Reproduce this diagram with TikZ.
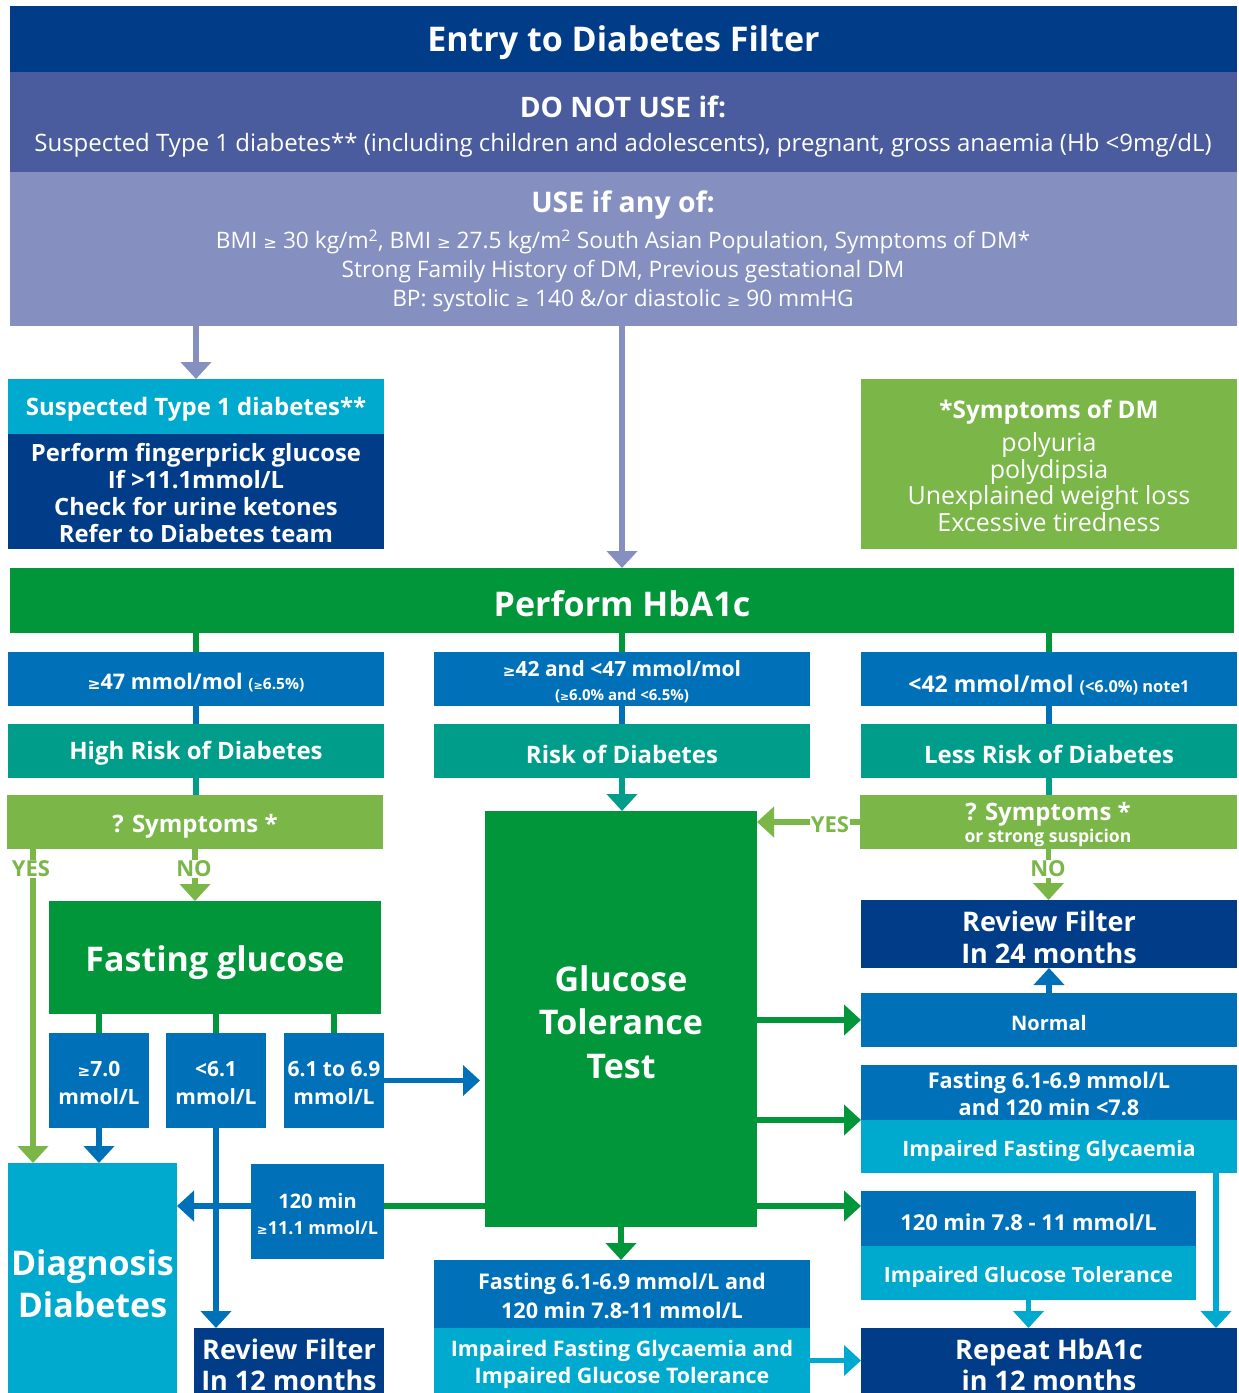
\documentclass[tikz,border=0pt]{standalone}
\usepackage{fontspec}
\setmainfont{Open Sans}
\newfontfamily\djfont{DejaVu Sans}
\usetikzlibrary{arrows.meta}
\newcommand\GE{\scalebox{0.72}{\djfont ≥}}
\newcommand\myfs[2]{\fontsize{#1}{#2}\selectfont}
\definecolor{navy}{HTML}{003C87}
\definecolor{dnuc}{HTML}{4A5C9D}
\definecolor{usec}{HTML}{8690C0}
\definecolor{cyanc}{HTML}{00A9CE}
\definecolor{mblue}{HTML}{0071B9}
\definecolor{tealc}{HTML}{009E8A}
\definecolor{lgreen}{HTML}{7AB648}
\definecolor{gr}{HTML}{009639}
\tikzset{
  box/.style={inner sep=0pt, outer sep=0pt, draw=none},
  tx/.style={text=white, inner sep=0pt, align=center},
  ln/.style={line width=5.5pt},
  ar/.style={line width=5.5pt, -{Triangle[width=30pt,length=17pt]}},
  lab/.style={text=lgreen, font=\bfseries\myfs{22}{24}, fill=white, inner sep=1pt},
}
\begin{document}
\begin{tikzpicture}[x=1pt,y=-1pt]
\useasboundingbox (0,0) rectangle (1239,1393);
\fill[white] (0,0) rectangle (1239,1393);

% ---------- boxes ----------
\node[box, fill=navy, minimum width=1227pt, minimum height=66pt] (title) at (623.5,39) {};
\node[box, fill=dnuc, minimum width=1227pt, minimum height=100pt] (dnu) at (623.5,122) {};
\node[box, fill=usec, minimum width=1227pt, minimum height=154pt] (use) at (623.5,249) {};
\node[box, fill=cyanc, minimum width=376pt, minimum height=55pt] (t1h) at (196,406.5) {};
\node[box, fill=navy, minimum width=376pt, minimum height=115pt] (t1b) at (196,491.5) {};
\node[box, fill=lgreen, minimum width=376pt, minimum height=170pt] (sym) at (1049,464) {};
\node[box, fill=gr, minimum width=1224pt, minimum height=65pt] (hba) at (622,600.5) {};
\node[box, fill=mblue, minimum width=376pt, minimum height=54pt] (r1a) at (196,679) {};
\node[box, fill=mblue, minimum width=376pt, minimum height=54pt] (r1b) at (622,679) {};
\node[box, fill=mblue, minimum width=376pt, minimum height=54pt] (r1c) at (1049,679) {};
\node[box, fill=tealc, minimum width=376pt, minimum height=54pt] (rk1) at (196,751) {};
\node[box, fill=tealc, minimum width=376pt, minimum height=54pt] (rk2) at (622,751) {};
\node[box, fill=tealc, minimum width=376pt, minimum height=54pt] (rk3) at (1049,751) {};
\node[box, fill=lgreen, minimum width=376pt, minimum height=54pt] (sy1) at (195,822) {};
\node[box, fill=lgreen, minimum width=377pt, minimum height=54pt] (sy3) at (1048.5,822) {};
\node[box, fill=gr, minimum width=272pt, minimum height=416pt] (gtt) at (621,1019) {};
\node[box, fill=gr, minimum width=332pt, minimum height=113pt] (fg) at (215,957.5) {};
\node[box, fill=mblue, minimum width=100pt, minimum height=95pt] (s1) at (99,1080.5) {};
\node[box, fill=mblue, minimum width=100pt, minimum height=95pt] (s2) at (216,1080.5) {};
\node[box, fill=mblue, minimum width=100pt, minimum height=95pt] (s3) at (334,1080.5) {};
\node[box, fill=cyanc, minimum width=169pt, minimum height=230pt] (diag) at (92.5,1278) {};
\node[box, fill=mblue, minimum width=133pt, minimum height=95pt] (m120) at (317.5,1211.5) {};
\node[box, fill=navy, minimum width=190pt, minimum height=65pt] (rf12) at (289,1360.5) {};
\node[box, fill=navy, minimum width=376pt, minimum height=68pt] (rf24) at (1049,934) {};
\node[box, fill=mblue, minimum width=376pt, minimum height=54pt] (norm) at (1049,1020) {};
\node[box, fill=mblue, minimum width=376pt, minimum height=55pt] (ifgt) at (1049,1092.5) {};
\node[box, fill=cyanc, minimum width=376pt, minimum height=53pt] (ifgb) at (1049,1146.5) {};
\node[box, fill=mblue, minimum width=335pt, minimum height=55pt] (igtt) at (1028.5,1218.5) {};
\node[box, fill=cyanc, minimum width=335pt, minimum height=54pt] (igtb) at (1028.5,1273) {};
\node[box, fill=navy, minimum width=376pt, minimum height=65pt] (rep) at (1049,1360.5) {};
\node[box, fill=mblue, minimum width=376pt, minimum height=68pt] (midt) at (622,1294) {};
\node[box, fill=cyanc, minimum width=376pt, minimum height=65pt] (midb) at (622,1360.5) {};

% ---------- helper coordinates ----------
\coordinate (xyes) at (33,0);
\coordinate (xifg) at (1216,0);
\coordinate (yigt) at (0,1206);

% ---------- connectors ----------
\draw[ar, usec] (use.south -| t1h) -- (t1h.north);
\draw[ar, usec] (use.south -| hba) -- (hba.north);
\draw[ln, gr] (hba.south -| r1a) -- (r1a.north);
\draw[ln, gr] (hba.south -| r1b) -- (r1b.north);
\draw[ln, gr] (hba.south -| r1c) -- (r1c.north);
\draw[ln, mblue] (r1a.south) -- (rk1.north);
\draw[ln, mblue] (r1b.south) -- (rk2.north);
\draw[ln, mblue] (r1c.south) -- (rk3.north);
\draw[ln, tealc] (rk1.south) -- (sy1.north -| rk1);
\draw[ar, tealc] (rk2.south) -- (gtt.north -| rk2);
\draw[ln, tealc] (rk3.south) -- (sy3.north -| rk3);
\draw[ar, lgreen] (sy3.west) -- (gtt.east |- sy3.west);
\draw[ar, lgreen] (sy3.south) -- (rf24.north -| sy3);
\draw[ar, lgreen] (sy1.south -| xyes) -- (diag.north -| xyes);
\draw[ar, lgreen] (sy1.south) -- (fg.north -| sy1);
\draw[ln, gr] (fg.south -| s1) -- (s1.north);
\draw[ln, gr] (fg.south -| s2) -- (s2.north);
\draw[ln, gr] (fg.south -| s3) -- (s3.north);
\draw[ar, mblue, shorten >=5pt] (s3.east) -- (gtt.west |- s3.east);
\draw[ar, mblue] (s1.south) -- (diag.north -| s1);
\draw[ar, mblue] (s2.south) -- (rf12.north -| s2);
\draw[ln, gr] (gtt.west |- yigt) -- (m120.east |- yigt);
\draw[ar, mblue] (m120.west |- yigt) -- (diag.east |- yigt);
\draw[ar, gr] (gtt.east |- norm) -- (norm.west);
\draw[ar, gr] (gtt.east |- ifgb.north west) -- (ifgb.north west);
\draw[ar, gr] (gtt.east |- yigt) -- (igtt.west |- yigt);
\draw[ar, gr] (gtt.south) -- (midt.north -| gtt);
\draw[ar, mblue] (norm.north) -- (rf24.south);
\draw[ar, cyanc] (ifgb.south -| xifg) -- (rep.north -| xifg);
\draw[ar, cyanc] (igtb.south) -- (rep.north -| igtb);
\draw[ar, cyanc] (midb.east) -- (rep.west |- midb.east);

% ---------- labels ----------
\node[lab] (yesl) at (31,869) {YES};
\node[lab] (nol) at (194,869) {NO};
\node[lab] (yesr) at (830,825) {YES};
\node[lab] (nor) at (1048,869) {NO};

% ---------- texts ----------
\node[tx, font=\bfseries\myfs{34}{40}] (titletx) at (623.5,43) {Entry to Diabetes Filter};
\node[tx, font=\bfseries\myfs{28.2}{32}] (dnuh) at (623,107) {DO NOT USE if:};
\node[tx, font=\myfs{24}{27}] (dnus) at (623,145) {Suspected Type 1 diabetes** (including children and adolescents), pregnant, gross anaemia (Hb <9mg/dL)};
\node[tx, font=\bfseries\myfs{28.4}{32}] (useh) at (623,205) {USE if any of:};
\node[tx, font=\myfs{22.7}{29}] (useb) at (623,271) {BMI \GE\ 30 kg/m\textsuperscript{2}, BMI \GE\ 27.5 kg/m\textsuperscript{2} South Asian Population, Symptoms of DM*\\Strong Family History of DM, Previous gestational DM\\BP: systolic \GE\ 140 \&/or diastolic \GE\ 90 mmHG};
\node[tx, font=\bfseries\myfs{24}{27}] (t1htx) at (196,409) {Suspected Type 1 diabetes**};
\node[tx, font=\bfseries\myfs{23.8}{27}] (t1btx) at (196,493) {Perform fingerprick glucose\\If >11.1mmol/L\\Check for urine ketones\\Refer to Diabetes team};
\node[tx, font=\bfseries\myfs{24.3}{27}] (symh) at (1049,412) {*Symptoms of DM};
\node[tx, font=\myfs{25}{26.7}] (symb) at (1049,482) {polyuria\\polydipsia\\Unexplained weight loss\\Excessive tiredness};
\node[tx, font=\bfseries\myfs{34}{40}] (hbatx) at (622,604) {Perform HbA1c};
\node[tx, font=\bfseries\myfs{21.5}{24}] (r1atx) at (196,683) {\GE47 mmol/mol {\myfs{15.5}{18}(\GE6.5\%)}};
\node[tx, font=\bfseries\myfs{21}{24}] (r1btx) at (622,682) {\GE42 and <47 mmol/mol\\{\myfs{15}{18}(\GE6.0\% and <6.5\%)}};
\node[tx, font=\bfseries\myfs{23}{24}] (r1ctx) at (1049,685) {<42 mmol/mol {\myfs{16.4}{18}(<6.0\%) note1}};
\node[tx, font=\bfseries\myfs{24}{27}] (rk1tx) at (196,753) {High Risk of Diabetes};
\node[tx, font=\bfseries\myfs{24}{27}] (rk2tx) at (622,754) {Risk of Diabetes};
\node[tx, font=\bfseries\myfs{24}{27}] (rk3tx) at (1049,754) {Less Risk of Diabetes};
\node[tx, font=\bfseries\myfs{24}{27}] (sy1tx) at (195,826) {? Symptoms *};
\node[tx, font=\bfseries\myfs{24}{27}] (sy3tx) at (1048,814) {? Symptoms *};
\node[tx, font=\bfseries\myfs{17.6}{20}] (sy3tx2) at (1048,838) {or strong suspicion};
\node[tx, font=\bfseries\myfs{34}{43.5}] (gtttx) at (621,1022) {Glucose\\Tolerance\\Test};
\node[tx, font=\bfseries\myfs{34}{40}] (fgtx) at (215,963) {Fasting glucose};
\node[tx, font=\bfseries\myfs{21}{28}] (s1tx) at (99,1083) {\GE7.0\\mmol/L};
\node[tx, font=\bfseries\myfs{21}{28}] (s2tx) at (216,1083) {<6.1\\mmol/L};
\node[tx, font=\bfseries\myfs{21}{28}] (s3tx) at (334,1083) {6.1 to 6.9\\mmol/L};
\node[tx, font=\bfseries\myfs{20}{26}] (m120tx) at (317.5,1214) {120 min\\{\myfs{18}{26}\GE11.1 mmol/L}};
\node[tx, font=\bfseries\myfs{34}{42}] (diagtx) at (92.5,1284) {Diagnosis\\Diabetes};
\node[tx, font=\bfseries\myfs{27}{31}] (rf12tx) at (289,1365) {Review Filter\\In 12 months};
\node[tx, font=\bfseries\myfs{27}{32}] (rf24tx) at (1049,937) {Review Filter\\In 24 months};
\node[tx, font=\bfseries\myfs{20}{24}] (normtx) at (1049,1023) {Normal};
\node[tx, font=\bfseries\myfs{21.7}{27}] (ifgttx) at (1049,1094) {Fasting 6.1-6.9 mmol/L\\and 120 min <7.8};
\node[tx, font=\bfseries\myfs{21.2}{24}] (ifgbtx) at (1049,1151) {Impaired Fasting Glycaemia};
\node[tx, font=\bfseries\myfs{21.9}{24}] (igtttx) at (1028.5,1222) {120 min 7.8 - 11 mmol/L};
\node[tx, font=\bfseries\myfs{21}{24}] (igtbtx) at (1028.5,1277) {Impaired Glucose Tolerance};
\node[tx, font=\bfseries\myfs{27}{31}] (reptx) at (1049,1365) {Repeat HbA1c\\in 12 months};
\node[tx, font=\bfseries\myfs{21.6}{29}] (midttx) at (622,1295.5) {Fasting 6.1-6.9 mmol/L and\\120 min 7.8-11 mmol/L};
\node[tx, font=\bfseries\myfs{21.4}{27}] (midbtx) at (622,1364.5) {Impaired Fasting Glycaemia and\\Impaired Glucose Tolerance};
\end{tikzpicture}
\end{document}
